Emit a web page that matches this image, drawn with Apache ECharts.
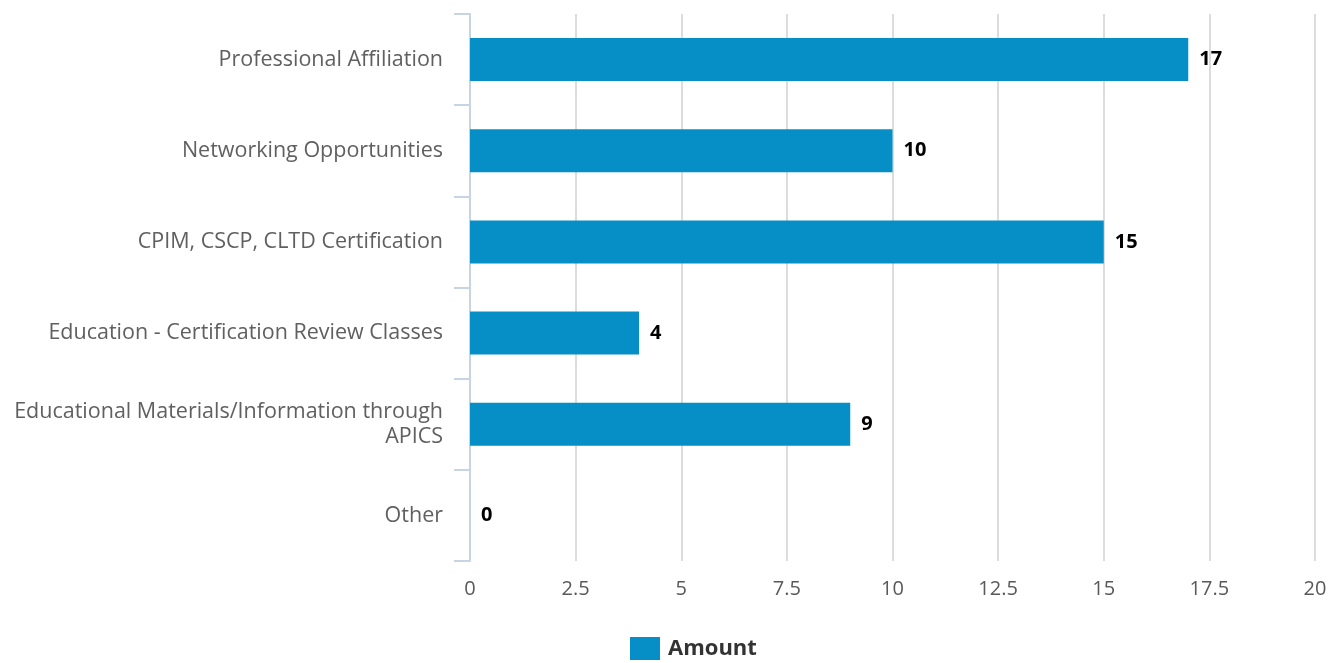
<!DOCTYPE html>
<html>
<head>
<meta charset="utf-8">
<script src="https://cdn.jsdelivr.net/npm/echarts@6/dist/echarts.min.js"></script>
<style>
  html, body { margin: 0; padding: 0; background: #fff; }
  #chart { width: 1339px; height: 663px; }
</style>
</head>
<body>
<div id="chart"></div>
<script>
const categories = [
  "Professional Affiliation",
  "Networking Opportunities",
  "CPIM, CSCP, CLTD Certification",
  "Education - Certification Review Classes",
  "Educational Materials/Information through\nAPICS",
  "Other"
];
const amounts = [17, 10, 15, 4, 9, 0];
const xTicks = { min: 0, max: 20, step: 2.5 };

const chart = echarts.init(document.getElementById("chart"));
const font = "'Open Sans', 'Noto Sans', sans-serif";

const option = {
  textStyle: { fontFamily: font },
  animation: false,
  grid: { left: 470, right: 24, top: 14, bottom: 102, containLabel: false },
  legend: {
    top: 637,
    left: 630,
    padding: 0,
    itemWidth: 30,
    itemHeight: 23,
    icon: "rect",
    textStyle: {
      fontFamily: font, fontSize: 22, fontWeight: "bold", color: "#333",
      padding: [0, 0, 0, 3]
    },
    data: ["Amount"]
  },
  xAxis: {
    type: "value",
    min: xTicks.min,
    max: xTicks.max,
    interval: xTicks.step,
    axisLine: { show: false },
    axisTick: { show: false },
    axisLabel: { margin: 18, fontSize: 20, color: "#595959", fontFamily: font },
    splitLine: { show: true, lineStyle: { color: "#dcdcdc", width: 2 } }
  },
  yAxis: {
    type: "category",
    inverse: true,
    data: categories,
    axisLine: { show: true, lineStyle: { color: "#c6d4e4", width: 2 } },
    axisTick: { show: true, length: 16, lineStyle: { color: "#c6d4e4", width: 2 } },
    axisLabel: {
      margin: 27,
      fontSize: 21.5,
      color: "#606060",
      fontFamily: font,
      lineHeight: 25,
      align: "right"
    }
  },
  series: [{
    name: "Amount",
    type: "bar",
    data: amounts,
    barWidth: 43,
    itemStyle: { color: "#068fc7" },
    label: {
      show: true,
      position: "right",
      distance: 11,
      fontSize: 20,
      fontWeight: "bold",
      color: "#000",
      fontFamily: font
    }
  }]
};

chart.setOption(option);
</script>
</body>
</html>
